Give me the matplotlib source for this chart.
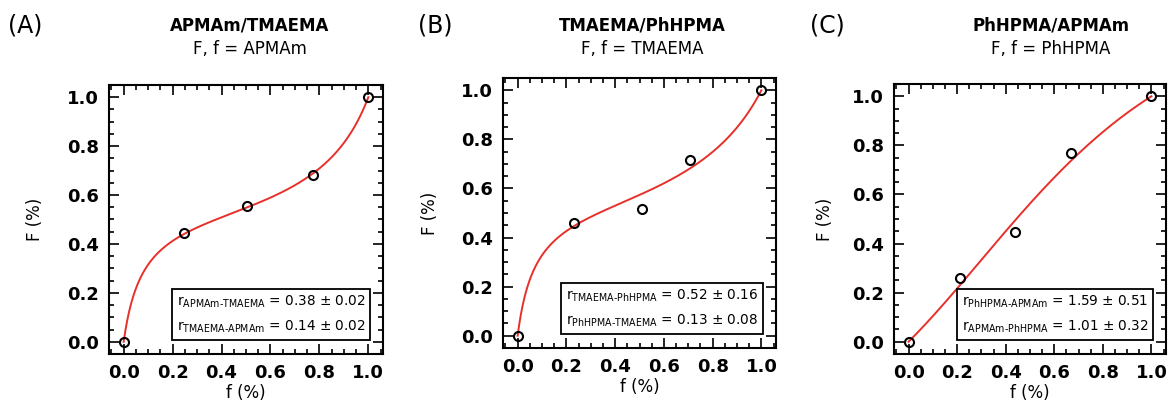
import numpy as np
import matplotlib.pyplot as plt
from matplotlib.ticker import MultipleLocator

# monomer feed fraction f and copolymer fraction F for each pair
f_a = [0.0, 0.247, 0.503, 0.773, 1.0]
F_a = [0.0, 0.443, 0.557, 0.680, 1.0]
f_b = [0.0, 0.23, 0.509, 0.706, 1.0]
F_b = [0.0, 0.46, 0.516, 0.716, 1.0]
f_c = [0.0, 0.21, 0.44, 0.668, 1.0]
F_c = [0.0, 0.261, 0.448, 0.769, 1.0]

# reactivity ratios (value, error)
r_a = [(0.38, 0.02), (0.14, 0.02)]
r_b = [(0.52, 0.16), (0.13, 0.08)]
r_c = [(1.59, 0.51), (1.01, 0.32)]

letters = ["(A)", "(B)", "(C)"]
titles = ["APMAm/TMAEMA", "TMAEMA/PhHPMA", "PhHPMA/APMAm"]
subtitles = ["F, f = APMAm", "F, f = TMAEMA", "F, f = PhHPMA"]
r_names = [["APMAm‐TMAEMA", "TMAEMA‐APMAm"],
           ["TMAEMA‐PhHPMA", "PhHPMA‐TMAEMA"],
           ["PhHPMA‐APMAm", "APMAm‐PhHPMA"]]

W, H = 1168, 404
fig = plt.figure(figsize=(W / 100, H / 100), dpi=100)

# axes boxes in pixels: left, right, top, bottom
boxes = [(109, 383, 85, 354), (503, 776, 78, 348), (894, 1166, 84, 354)]
title_x = [250, 642, 1051]
letter_x = [8, 418, 810]
ylab_x = [35, 430, 825]

data = [(f_a, F_a, r_a), (f_b, F_b, r_b), (f_c, F_c, r_c)]


def mayo_lewis(f, r1, r2):
    g = 1 - f
    return (r1 * f**2 + f * g) / (r1 * f**2 + 2 * f * g + r2 * g**2)


for i, (fx, Fy, rr) in enumerate(data):
    l, r, t, b = boxes[i]
    ax = fig.add_axes([l / W, 1 - b / H, (r - l) / W, (b - t) / H])

    ff = np.linspace(0, 1, 300)
    ax.plot(ff, mayo_lewis(ff, rr[0][0], rr[1][0]), color="#e8302a", lw=1.4, zorder=2)
    ax.plot(fx, Fy, "o", ms=6.5, mfc="none", mec="black", mew=1.5, zorder=3)

    ax.set_xlim(-0.06, 1.06)
    ax.set_ylim(-0.05, 1.05)
    ax.xaxis.set_major_locator(MultipleLocator(0.2))
    ax.yaxis.set_major_locator(MultipleLocator(0.2))
    ax.xaxis.set_minor_locator(MultipleLocator(0.05))
    ax.yaxis.set_minor_locator(MultipleLocator(0.05))
    ax.tick_params(which="both", direction="in", top=True, right=True, width=1.2)
    ax.tick_params(which="major", length=7, labelsize=13, pad=7)
    ax.tick_params(which="minor", length=3.5)
    for lab in ax.get_xticklabels() + ax.get_yticklabels():
        lab.set_fontweight("bold")
    for s in ax.spines.values():
        s.set_linewidth(1.5)

    ax.set_xlabel("f (%)", fontsize=12, labelpad=2)
    fig.text(ylab_x[i] / W, 1 - ((t + b) / 2) / H, "F (%)", rotation=90,
             ha="center", va="center", fontsize=12)

    txt = ("r$_{\\mathrm{%s}}$ = %.2f ± %.2f\nr$_{\\mathrm{%s}}$ = %.2f ± %.2f"
           % (r_names[i][0], rr[0][0], rr[0][1], r_names[i][1], rr[1][0], rr[1][1]))
    ax.text(0.935, 0.07, txt, transform=ax.transAxes, ha="right", va="bottom",
            fontsize=9.8, linespacing=1.75,
            bbox=dict(boxstyle="square,pad=0.35", fc="white", ec="black", lw=1.3))

    fig.text(letter_x[i] / W, 1 - 25 / H, letters[i], fontsize=17, va="center")
    fig.text(title_x[i] / W, 1 - 25 / H, titles[i], fontsize=12,
             fontweight="bold", ha="center", va="center")
    fig.text(title_x[i] / W, 1 - 49 / H, subtitles[i], fontsize=12,
             ha="center", va="center")

fig.savefig("out.png", dpi=100)
